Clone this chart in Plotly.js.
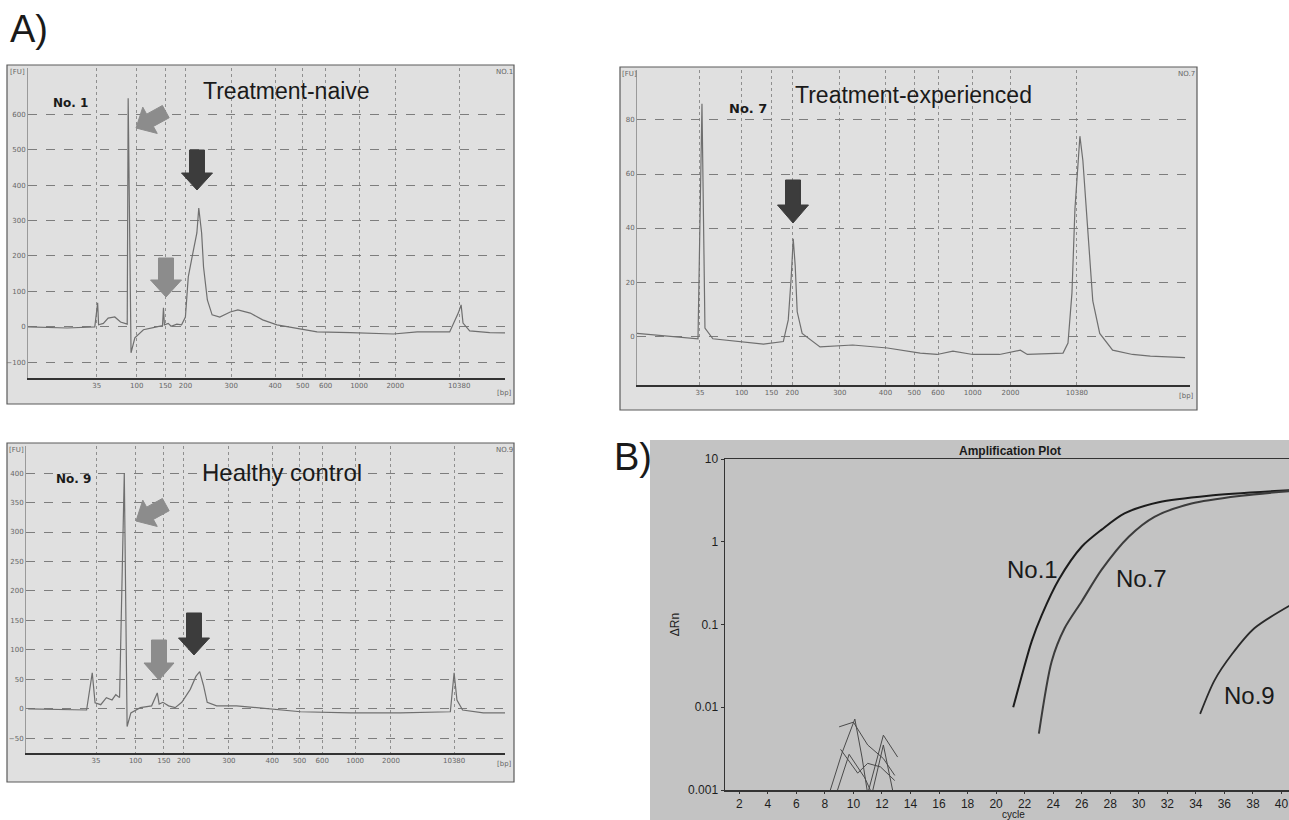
<!DOCTYPE html>
<html><head><meta charset="utf-8">
<script src="https://cdn.plot.ly/plotly-3.0.1.min.js"></script>
<style>html,body{margin:0;padding:0;background:#fff}#chart{width:1289px;height:820px}</style>
</head><body><div id="chart"></div>
<script>
const W = 1289, H = 820;

// ---- Bioanalyzer ladder (x tick labels) ----
const ladderBp = ['35','100','150','200','300','400','500','600','1000','2000','10380'];
const ladderTime = [27.2, 31.4, 34.4, 36.5, 41.3, 45.9, 48.8, 51.2, 54.7, 58.5, 65.2];

// ---- Electropherogram No. 1 (Treatment-naive) ----
const no1Time = [20.0,24.1,27.0,27.3,27.4,27.9,28.4,29.1,29.7,30.4,30.5,30.8,31.2,32.1,33.5,34.1,34.2,34.3,34.7,35.0,35.6,36.1,36.5,36.8,37.3,37.7,37.9,38.2,38.4,38.8,39.3,40.1,41.2,42.0,43.3,44.6,46.1,47.5,50.3,53.8,58.3,60.8,64.2,65.1,65.4,65.6,66.3,68.4,70.0];
const no1FU   = [0,-3,0,68,6,10,25,28,14,8,645,-73,-31,-8,0,4,54,6,10,2,8,6,28,141,211,265,335,265,169,76,34,28,42,48,39,20,6,0,-14,-16,-20,-14,-14,39,62,11,-11,-16,-17];
const no1YTicks = [-100,0,100,200,300,400,500,600];

// ---- Electropherogram No. 7 (Treatment-experienced) ----
const no7Time = [20.85,24.2,27.0,27.4,27.7,28.5,31.0,33.6,35.6,36.1,36.4,36.6,36.8,37.0,37.5,39.3,42.6,46.1,49.4,51.1,52.7,54.7,57.4,59.5,60.2,63.8,64.3,64.7,65.0,65.5,65.8,66.3,66.8,67.5,68.8,70.8,72.6,76.1];
const no7FU   = [1,0,-1,86,3,-1,-2,-3,-2,6,22,36,26,9,1,-4,-3.3,-4.4,-6.3,-6.8,-5.6,-6.8,-6.8,-5.2,-6.8,-6.3,-2.6,16,47,74,65,37,13,1,-5.2,-6.8,-7.4,-8];
const no7YTicks = [0,20,40,60,80];

// ---- Electropherogram No. 9 (Healthy control) ----
const no9Time = [20.0,26.2,26.8,27.1,27.7,28.3,28.9,29.3,29.7,30.2,30.5,30.9,31.9,33.1,33.7,33.9,34.3,34.9,35.6,36.3,37.2,37.8,38.2,38.6,39.0,40.0,42.1,45.3,48.9,54.2,59.5,64.8,65.2,65.5,66.1,68.3,70.6];
const no9FU   = [0,-2,61,10,7,19,15,24,19,400,-30,-7,2,5,27,8,11,5,2,11,33,55,63,40,11,5,5,0,-5,-7,-7,-5,61,15,-2,-7,-7];
const no9YTicks = [-50,0,50,100,150,200,250,300,350,400];

// ---- Amplification plot (B) ----
const cycleTicks = [2,4,6,8,10,12,14,16,18,20,22,24,26,28,30,32,34,36,38,40];
const rnTicks = [0.001,0.01,0.1,1,10];
const rnTickText = ['0.001','0.01','0.1','1','10'];
const ampNo1Cycle = [21.2,21.8,22.5,23.2,24.4,26.0,27.4,29.0,31.4,34.9,40.6];
const ampNo1Rn    = [0.01,0.024,0.063,0.13,0.35,0.87,1.4,2.2,3.0,3.6,4.2];
const ampNo7Cycle = [23.0,23.9,24.8,26.0,27.4,29.3,31.1,33.7,37.2,40.6];
const ampNo7Rn    = [0.0048,0.036,0.09,0.19,0.46,1.15,2.0,2.9,3.6,4.1];
const ampNo9Cycle = [34.3,35.3,36.5,38.1,40.6];
const ampNo9Rn    = [0.0083,0.021,0.043,0.09,0.17];
const noiseCycles = [[8.3,9.2,10.1,10.6,11.0],[9.0,10.0,11.0,12.1,12.9],[11.0,12.1,13.1],[9.1,10.3,11.0,11.9,12.9],[8.8,9.7,10.8,11.3],[11.3,12.1,12.8]];
const noiseRn     = [[0.0009,0.0028,0.0072,0.0025,0.0009],[0.0058,0.0066,0.0035,0.0024,0.0015],[0.0009,0.0046,0.0025],[0.0031,0.0016,0.0021,0.0019,0.0013],[0.0009,0.0027,0.0014,0.0009],[0.0009,0.0035,0.0009]];

// ---------- helpers (pixel -> paper) ----------
const px = x => x / W, py = y => 1 - y / H;
function ann(text, x, y, size, extra) {
  return Object.assign({text, x: px(x), y: py(y), xref:'paper', yref:'paper', showarrow:false,
    xanchor:'center', yanchor:'middle',
    font:{family:'Liberation Sans, Arial, sans-serif', size, color:'#1a1a1a'}}, extra || {});
}
function rect(x0,y0,x1,y1,fill,line){
  return {type:'rect', xref:'paper', yref:'paper', x0:px(x0), x1:px(x1), y0:py(y1), y1:py(y0),
    fillcolor:fill, line:{color:line||'rgba(0,0,0,0)', width:line?1.2:0}, layer:'below'};
}
function blockArrow(tx, ty, dx, dy, len, headLen, headW, shaftW, color){
  const n = Math.hypot(dx,dy); dx/=n; dy/=n; const nx=-dy, ny=dx;
  const bx=tx-dx*headLen, by=ty-dy*headLen, ex=tx-dx*len, ey=ty-dy*len;
  const pts=[[tx,ty],[bx+nx*headW/2,by+ny*headW/2],[bx+nx*shaftW/2,by+ny*shaftW/2],[ex+nx*shaftW/2,ey+ny*shaftW/2],
             [ex-nx*shaftW/2,ey-ny*shaftW/2],[bx-nx*shaftW/2,by-ny*shaftW/2],[bx-nx*headW/2,by-ny*headW/2]];
  return {type:'path', xref:'paper', yref:'paper', layer:'above', fillcolor:color, line:{color:color,width:1},
    path:'M '+pts.map(p=>px(p[0]).toFixed(5)+','+py(p[1]).toFixed(5)).join(' L ')+' Z'};
}

const traceLine = {color:'#6f6f6f', width:1.2};
const traces = [
  {x:no1Time, y:no1FU, xaxis:'x', yaxis:'y', mode:'lines', line:traceLine, hoverinfo:'skip'},
  {x:no7Time, y:no7FU, xaxis:'x2', yaxis:'y2', mode:'lines', line:traceLine, hoverinfo:'skip'},
  {x:no9Time, y:no9FU, xaxis:'x3', yaxis:'y3', mode:'lines', line:traceLine, hoverinfo:'skip'}
];
noiseCycles.forEach((c,i)=>traces.push({x:c, y:noiseRn[i], xaxis:'x4', yaxis:'y4', mode:'lines',
  line:{color:'#4a4a4a', width:1}, hoverinfo:'skip'}));
traces.push({x:ampNo1Cycle, y:ampNo1Rn, xaxis:'x4', yaxis:'y4', mode:'lines', line:{color:'#1c1c1c', width:2, shape:'spline', smoothing:0.8}});
traces.push({x:ampNo7Cycle, y:ampNo7Rn, xaxis:'x4', yaxis:'y4', mode:'lines', line:{color:'#3c3c3c', width:2, shape:'spline', smoothing:0.8}});
traces.push({x:ampNo9Cycle, y:ampNo9Rn, xaxis:'x4', yaxis:'y4', mode:'lines', line:{color:'#2a2a2a', width:1.8, shape:'spline', smoothing:0.8}});

const tinyFont = {family:'DejaVu Sans, sans-serif', size:7, color:'#666'};
function aX(l, r, range, anchor){
  return {domain:[px(l), px(r)], range, anchor, tickvals:ladderTime, ticktext:ladderBp, ticks:'',
    showgrid:true, gridcolor:'#8f8f8f', griddash:'dot', gridwidth:1, zeroline:false,
    showline:true, linecolor:'#333', linewidth:1.6, tickfont:tinyFont, fixedrange:true};
}
function aY(top, bottom, range, ticks, anchor){
  return {domain:[py(bottom), py(top)], range, anchor, tickvals:ticks, ticks:'',
    showgrid:true, gridcolor:'#7d7d7d', griddash:'dash', gridwidth:1, zeroline:false,
    showline:true, linecolor:'#9a9a9a', linewidth:1, tickfont:tinyFont, fixedrange:true};
}

const layout = {
  width:W, height:H, margin:{l:0,r:0,t:0,b:0}, paper_bgcolor:'#ffffff', plot_bgcolor:'rgba(0,0,0,0)',
  showlegend:false,
  xaxis: aX(28, 505, [20, 70], 'y'),
  yaxis: aY(68, 378, [-144, 730], no1YTicks, 'x'),
  xaxis2: aX(637, 1190, [20.85, 76.6], 'y2'),
  yaxis2: aY(70, 385, [-18.1, 98.5], no7YTicks, 'x2'),
  xaxis3: aX(26, 505, [19.77, 70.6], 'y3'),
  yaxis3: aY(446, 753, [-75, 446], no9YTicks, 'x3'),
  xaxis4: {domain:[px(725), 1], range:[1, 40.53], anchor:'y4', tickvals:cycleTicks, ticks:'outside', ticklen:2,
    tickcolor:'#333', showline:true, mirror:true, linecolor:'#333', linewidth:1.5, showgrid:false, zeroline:false,
    tickfont:{family:'Liberation Sans, Arial, sans-serif', size:12, color:'#1e1e1e'}, fixedrange:true},
  yaxis4: {domain:[py(790), py(459)], type:'log', range:[-3, 1], anchor:'x4', tickvals:rnTicks, ticktext:rnTickText,
    ticks:'outside', ticklen:3, tickcolor:'#333', showline:true, linecolor:'#333', linewidth:1.5, showgrid:false, zeroline:false,
    tickfont:{family:'Liberation Sans, Arial, sans-serif', size:12, color:'#1e1e1e'},
    title:{text:'ΔRn', font:{family:'Liberation Sans, Arial, sans-serif', size:12, color:'#1e1e1e'}, standoff:6}, fixedrange:true},
  shapes: [
    rect(7, 65, 514, 404, '#e0e0e0', '#5a5a5a'),
    rect(620, 67, 1197, 410, '#e0e0e0', '#5a5a5a'),
    rect(7, 443, 514, 782, '#e0e0e0', '#5a5a5a'),
    rect(650, 440, 1289, 820, '#c3c3c3', null),
    // panel 1 arrows
    blockArrow(136, 128, -1, 0.55, 34, 16, 30, 14, '#8c8c8c'),
    blockArrow(197, 190, 0, 1, 40, 17, 31, 15, '#3c3c3c'),
    blockArrow(166, 297, 0, 1, 39, 17, 31, 15, '#8c8c8c'),
    // panel 2 arrow
    blockArrow(793, 223, 0, 1, 43, 18, 31, 15, '#3c3c3c'),
    // panel 3 arrows
    blockArrow(136, 521, -1, 0.55, 34, 16, 30, 14, '#8c8c8c'),
    blockArrow(159, 680, 0, 1, 40, 17, 30, 15, '#8c8c8c'),
    blockArrow(194, 655, 0, 1, 42, 17, 31, 15, '#3c3c3c')
  ],
  annotations: [
    ann('A)', 29, 29, 38),
    ann('B)', 633, 457, 38),
    ann('Treatment-naive', 286, 91, 23),
    ann('Treatment-experienced', 913, 95, 23),
    ann('Healthy control', 282, 473, 24),
    ann('No. 1', 70, 103, 12, {font:{family:'DejaVu Sans, sans-serif', size:12, color:'#1a1a1a', weight:'bold'}}),
    ann('No. 7', 748, 108, 13, {font:{family:'DejaVu Sans, sans-serif', size:13, color:'#1a1a1a', weight:'bold'}}),
    ann('No. 9', 73, 479, 12, {font:{family:'DejaVu Sans, sans-serif', size:12, color:'#1a1a1a', weight:'bold'}}),
    ann('[FU]', 17, 72, 6, {font:tinyFont}),
    ann('[FU]', 629, 74, 6, {font:tinyFont}),
    ann('[FU]', 16, 450, 6, {font:tinyFont}),
    ann('NO.1', 505, 72, 6, {font:tinyFont}),
    ann('NO.7', 1186, 74, 6, {font:tinyFont}),
    ann('NO.9', 505, 450, 6, {font:tinyFont}),
    ann('[bp]', 505, 393, 6, {font:tinyFont}),
    ann('[bp]', 1186, 396, 6, {font:tinyFont}),
    ann('[bp]', 505, 764, 6, {font:tinyFont}),
    ann('Amplification Plot', 1010, 451, 12, {font:{family:'Liberation Sans, Arial, sans-serif', size:12, color:'#1a1a1a', weight:'bold'}}),
    ann('cycle', 1013, 814, 10),
    ann('No.1', 1032, 569, 24),
    ann('No.7', 1141, 578, 24),
    ann('No.9', 1249, 695, 24)
  ]
};

Plotly.newPlot('chart', traces, layout, {staticPlot:true, displayModeBar:false});
</script>
</body></html>
